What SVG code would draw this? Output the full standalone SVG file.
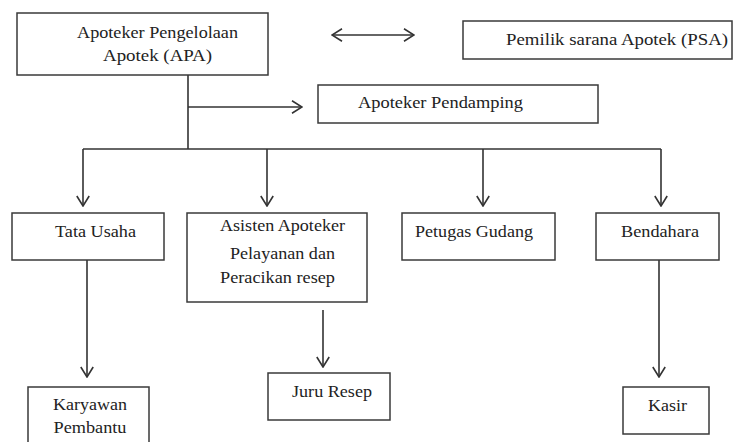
<svg xmlns="http://www.w3.org/2000/svg" width="733" height="442" viewBox="0 0 733 442">
<defs>
<style>
.box{fill:#fff;stroke:#3a3a3a;stroke-width:1.5}
.ln{stroke:#333;stroke-width:1.6;fill:none}
</style>
<marker id="ah" viewBox="0 0 12 14" refX="11" refY="7" markerWidth="12" markerHeight="14" markerUnits="userSpaceOnUse" orient="auto-start-reverse">
<path d="M1,0.8 L11,7 L1,13.2" fill="none" stroke="#333" stroke-width="1.6"/>
</marker>
</defs>
<rect width="733" height="442" fill="#fff"/>
<g id="connectors">
<line class="ln" x1="332" y1="35" x2="414" y2="35" marker-start="url(#ah)" marker-end="url(#ah)"/>
<line class="ln" x1="188" y1="75" x2="188" y2="149"/>
<line class="ln" x1="188" y1="107" x2="302" y2="107" marker-end="url(#ah)"/>
<line class="ln" x1="83" y1="149" x2="661" y2="149"/>
<line class="ln" x1="83" y1="149" x2="83" y2="206" marker-end="url(#ah)"/>
<line class="ln" x1="267" y1="149" x2="267" y2="206" marker-end="url(#ah)"/>
<line class="ln" x1="483" y1="149" x2="483" y2="206" marker-end="url(#ah)"/>
<line class="ln" x1="661" y1="149" x2="661" y2="206" marker-end="url(#ah)"/>
<line class="ln" x1="87" y1="260" x2="87" y2="377" marker-end="url(#ah)"/>
<line class="ln" x1="323" y1="310" x2="323" y2="367" marker-end="url(#ah)"/>
<line class="ln" x1="659" y1="260" x2="659" y2="377" marker-end="url(#ah)"/>
</g>
<g font-family="Liberation Serif, Times New Roman, serif" font-size="17" fill="#222" text-anchor="middle">
<g id="apa"><rect class="box" x="17" y="13" width="251" height="62"/>
<text x="157.5" y="38" textLength="161" lengthAdjust="spacingAndGlyphs">Apoteker Pengelolaan</text>
<text x="157.5" y="61" textLength="109" lengthAdjust="spacingAndGlyphs">Apotek (APA)</text></g>
<g id="psa"><rect class="box" x="463" y="21" width="269" height="38"/>
<text x="617" y="45" textLength="222" lengthAdjust="spacingAndGlyphs">Pemilik sarana Apotek (PSA)</text></g>
<g id="pendamping"><rect class="box" x="318" y="85" width="280" height="38"/>
<text x="440.5" y="108" textLength="165" lengthAdjust="spacingAndGlyphs">Apoteker Pendamping</text></g>
<g id="tatausaha"><rect class="box" x="12" y="213" width="152" height="47"/>
<text x="95.5" y="237" textLength="81" lengthAdjust="spacingAndGlyphs">Tata Usaha</text></g>
<g id="asisten"><rect class="box" x="187" y="213" width="180" height="89"/>
<text x="282.5" y="231" textLength="125" lengthAdjust="spacingAndGlyphs">Asisten Apoteker</text>
<text x="282.5" y="259" textLength="105" lengthAdjust="spacingAndGlyphs">Pelayanan dan</text>
<text x="277.5" y="283" textLength="115" lengthAdjust="spacingAndGlyphs">Peracikan resep</text></g>
<g id="gudang"><rect class="box" x="402" y="213" width="153" height="47"/>
<text x="474" y="237" textLength="118" lengthAdjust="spacingAndGlyphs">Petugas Gudang</text></g>
<g id="bendahara"><rect class="box" x="596" y="213" width="123" height="47"/>
<text x="660" y="237" textLength="78" lengthAdjust="spacingAndGlyphs">Bendahara</text></g>
<g id="karyawan"><rect class="box" x="28" y="387" width="121" height="60"/>
<text x="90" y="410" textLength="74" lengthAdjust="spacingAndGlyphs">Karyawan</text>
<text x="90" y="433" textLength="73" lengthAdjust="spacingAndGlyphs">Pembantu</text></g>
<g id="juruesep"><rect class="box" x="268" y="373" width="122" height="47"/>
<text x="332" y="397" textLength="80" lengthAdjust="spacingAndGlyphs">Juru Resep</text></g>
<g id="kasir"><rect class="box" x="623" y="387" width="86" height="47"/>
<text x="667.5" y="411" textLength="39" lengthAdjust="spacingAndGlyphs">Kasir</text></g>
</g>
</svg>
